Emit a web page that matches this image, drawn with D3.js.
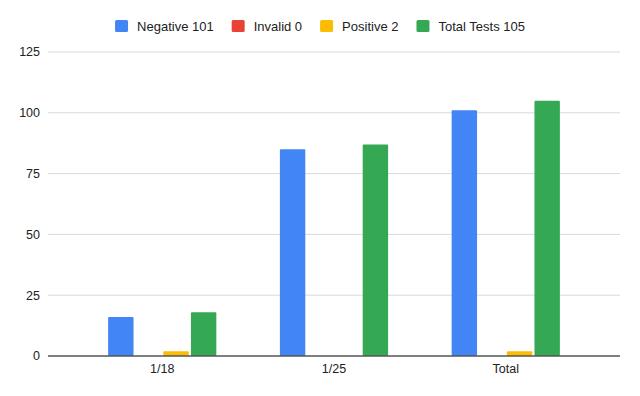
<!DOCTYPE html>
<html>
<head>
<meta charset="utf-8">
<script src="https://cdn.jsdelivr.net/npm/d3@7"></script>
<style>
  body { margin: 0; background: #fff; }
  svg { display: block; font-family: Arial, "Liberation Sans", sans-serif; }
</style>
</head>
<body>
<div id="chart"></div>
<script>
// data
var categories = ["1/18", "1/25", "Total"];
var seriesNames = ["Negative 101", "Invalid 0", "Positive 2", "Total Tests 105"];
var negative = [16, 85, 101];
var invalid = [0, 0, 0];
var positive = [2, 0, 2];
var totalTests = [18, 87, 105];
var yTicks = [0, 25, 50, 75, 100, 125];
var colors = ["#4285f4", "#ea4335", "#fbbc04", "#34a853"];

var seriesValues = [negative, invalid, positive, totalTests];

var width = 640;
var height = 396;
var margin = { top: 52, right: 20, bottom: 40, left: 48 };

var svg = d3.select("#chart")
    .append("svg")
    .attr("width", width)
    .attr("height", height);

// scales
var x0 = d3.scaleBand()
    .domain(categories)
    .range([margin.left, width - margin.right])
    .paddingInner(0.37)
    .paddingOuter(0.35);

var x1 = d3.scaleBand()
    .domain(d3.range(seriesNames.length))
    .range([0, x0.bandwidth()])
    .paddingInner(0.08);

var y = d3.scaleLinear()
    .domain([0, 125])
    .range([height - margin.bottom, margin.top]);

// gridlines
svg.append("g")
    .selectAll("line")
    .data(yTicks.filter(function (d) { return d > 0 }))
    .enter()
    .append("line")
    .attr("x1", margin.left)
    .attr("x2", width - margin.right)
    .attr("y1", function (d) { return y(d) })
    .attr("y2", function (d) { return y(d) })
    .attr("stroke", "#d9d9d9")
    .attr("stroke-width", 1);

// y labels
svg.append("g")
    .selectAll("text")
    .data(yTicks)
    .enter()
    .append("text")
    .attr("x", margin.left - 8)
    .attr("y", function (d) { return y(d) })
    .attr("dy", "0.35em")
    .attr("text-anchor", "end")
    .attr("font-size", 12.5)
    .attr("fill", "#222")
    .text(function (d) { return d });

// bars
var groups = svg.append("g")
    .selectAll("g")
    .data(categories)
    .enter()
    .append("g")
    .attr("transform", function (d) { return "translate(" + x0(d) + ",0)" });

groups.selectAll("rect")
    .data(function (d, i) {
        return seriesValues.map(function (vals, s) { return { s: s, v: vals[i] } });
    })
    .enter()
    .filter(function (d) { return d.v > 0 })
    .append("rect")
    .attr("x", function (d) { return x1(d.s) })
    .attr("width", x1.bandwidth())
    .attr("y", function (d) { return y(d.v) })
    .attr("height", function (d) { return y(0) - y(d.v) })
    .attr("rx", 1)
    .attr("fill", function (d) { return colors[d.s] });

// baseline
svg.append("line")
    .attr("x1", margin.left)
    .attr("x2", width - margin.right)
    .attr("y1", y(0))
    .attr("y2", y(0))
    .attr("stroke", "#555")
    .attr("stroke-width", 1.5);

// x labels
svg.append("g")
    .selectAll("text")
    .data(categories)
    .enter()
    .append("text")
    .attr("x", function (d) { return x0(d) + x0.bandwidth() / 2 })
    .attr("y", y(0) + 13)
    .attr("dy", "0.35em")
    .attr("text-anchor", "middle")
    .attr("font-size", 12.5)
    .attr("fill", "#222")
    .text(function (d) { return d });

// legend
var legend = svg.append("g");
var lx = 0;
seriesNames.forEach(function (name, i) {
    var item = legend.append("g").attr("transform", "translate(" + lx + ",0)");
    item.append("rect")
        .attr("x", 0)
        .attr("y", 20)
        .attr("width", 13)
        .attr("height", 12)
        .attr("rx", 1.5)
        .attr("fill", colors[i]);
    var t = item.append("text")
        .attr("x", 22)
        .attr("y", 26)
        .attr("dy", "0.35em")
        .attr("font-size", 13)
        .attr("fill", "#222")
        .text(name);
    lx += 22 + t.node().getComputedTextLength() + 18;
});
var legendWidth = lx - 18;
legend.attr("transform", "translate(" + ((width - legendWidth) / 2) + ",0)");
</script>
</body>
</html>
